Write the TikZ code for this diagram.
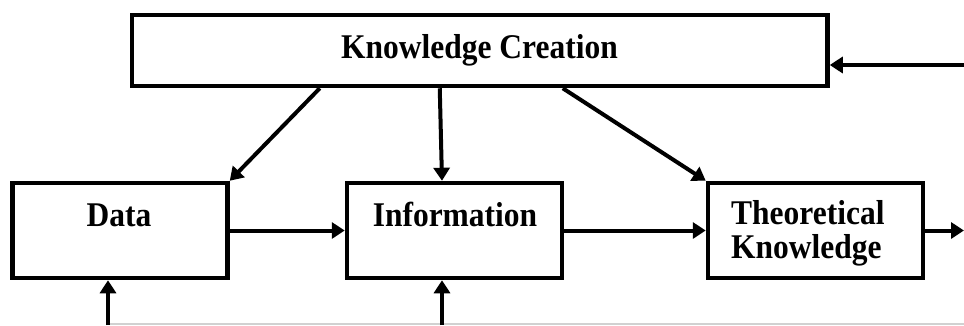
\documentclass[tikz,border=0pt]{standalone}
\usepackage{fontspec}
\setmainfont{Liberation Serif}
\usetikzlibrary{arrows.meta}
% labels are set a little taller than the font's natural shape
\newcommand{\tallbold}[1]{\scalebox{1}[1.1]{#1}}
\begin{document}
\begin{tikzpicture}[x=1pt,y=-1pt,
  stagebox/.style={draw, line width=4.5pt, minimum width=215pt, minimum height=95pt, inner sep=0pt},
  lbl/.style={font=\bfseries\fontsize{31.5}{30}\selectfont, inner sep=0pt, anchor=base},
  flow/.style={line width=4pt, -{Triangle[length=13pt,width=16pt]}},
  baseline rule/.style={draw=black!18, line width=2pt}]
\useasboundingbox (0,0) rectangle (964,325);

% boxes
\node[stagebox, minimum width=695.5pt, minimum height=71pt] (kc) at (479.75,50.5) {};
\node[stagebox] (data) at (120,230.5) {};
\node[stagebox] (info) at (454.5,230.5) {};
\node[stagebox] (theo) at (815.5,230.5) {};

% labels
\node[lbl] (kct) at (479.5,58) {\tallbold{Knowledge Creation}};
\node[lbl] (datat) at (119,226) {\tallbold{Data}};
\node[lbl] (infot) at (455,226) {\tallbold{Information}};
\node[lbl, anchor=base west] (theot) at (731,224) {\tallbold{Theoretical}};
\node[lbl, anchor=base west] (theok) at (731,258) {\tallbold{Knowledge}};

% loose ends at the picture's edge
\coordinate (inR) at (964,65);
\coordinate (outR) at (964,230.5);
\coordinate (dIn) at (108,325);
\coordinate (iIn) at (442,325);
\coordinate (ruleL) at (108,324);
\coordinate (ruleR) at (964,324);

% faint rule along the bottom edge
\draw[baseline rule] (ruleL) -- (ruleR);

% connectors
\draw[flow] ([xshift=190pt]kc.south west) -- (data.north east);
\draw[flow] ([xshift=310pt]kc.south west) -- ([xshift=-12.5pt]info.north);
\draw[flow] ([xshift=433pt]kc.south west) -- (theo.north west);
\draw[flow] (data.east) -- (info.west);
\draw[flow] (info.east) -- (theo.west);
\draw[flow] (theo.east) -- (outR);
\draw[flow] (inR) -- (inR -| kc.east);
\draw[flow] (dIn) -- (dIn |- data.south);
\draw[flow] (iIn) -- (iIn |- info.south);
\end{tikzpicture}
\end{document}
